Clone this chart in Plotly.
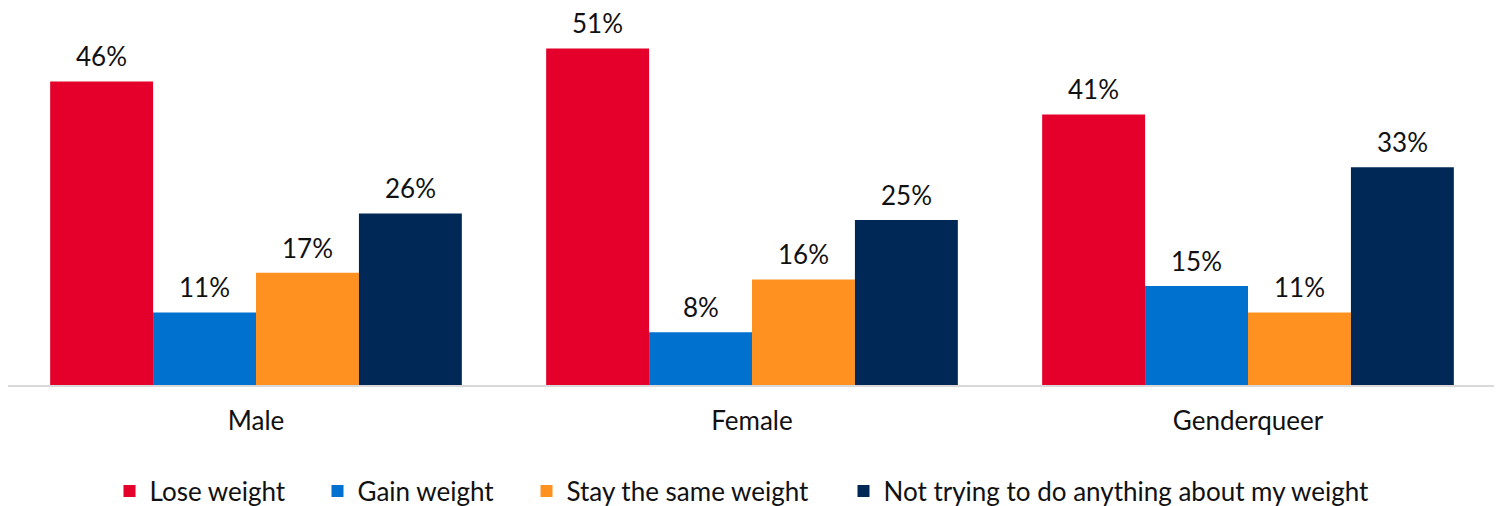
import plotly.graph_objects as go

categories = ["Male", "Female", "Genderqueer"]
series_names = ["Lose weight", "Gain weight", "Stay the same weight",
                "Not trying to do anything about my weight"]
lose = [46, 51, 41]
gain = [11, 8, 15]
same = [17, 16, 11]
not_trying = [26, 25, 33]

values = [lose, gain, same, not_trying]
colors = ["#E4002B", "#0071CE", "#FF9120", "#002856"]
legend_widths = [163, 164, 272, 0]

FONT = "Lato, 'Open Sans', sans-serif"
FS = 26
BARGAP = 0.17
n = len(series_names)
bw = (1 - BARGAP) / n

fig = go.Figure()
for j, (name, vals, col, lw) in enumerate(zip(series_names, values, colors, legend_widths)):
    fig.add_trace(go.Bar(
        x=categories, y=vals, name=name,
        marker=dict(color=col, line=dict(width=0)),
        legendwidth=lw if lw else None,
    ))
    for i, v in enumerate(vals):
        fig.add_annotation(
            x=i + (j - (n - 1) / 2) * bw, y=v, xref="x", yref="y",
            text=f"{v}%", showarrow=False, yanchor="bottom", yshift=7,
            font=dict(family=FONT, size=FS, color="#111111"),
        )

fig.update_layout(
    width=1502, height=506,
    margin=dict(l=0, r=14, t=14, b=129, autoexpand=False),
    paper_bgcolor="white", plot_bgcolor="white",
    barmode="group", bargap=BARGAP, bargroupgap=0,
    font=dict(family=FONT, size=FS, color="#111111"),
    showlegend=True,
    legend=dict(orientation="h", x=734 / 1502, xanchor="center",
                xref="container", yref="container", y=23 / 506,
                yanchor="middle", font=dict(size=FS, family=FONT, color="#111111"),
                itemwidth=30, tracegroupgap=0),
    xaxis=dict(showline=True, linecolor="#D9D9D9", linewidth=2,
               ticks="outside", ticklen=12, tickcolor="rgba(0,0,0,0)",
               tickfont=dict(size=FS, family=FONT, color="#111111"),
               showgrid=False, zeroline=False, automargin=False),
    yaxis=dict(range=[0, 55], visible=False, showgrid=False, zeroline=False,
               automargin=False),
)

fig.write_html("out.html")
